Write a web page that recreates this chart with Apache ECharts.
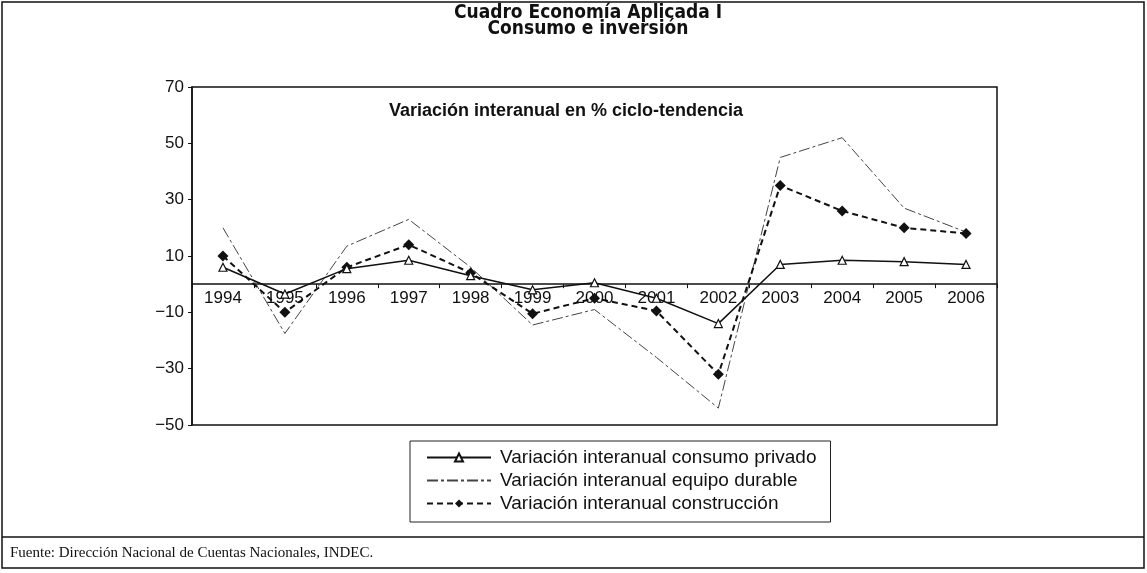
<!DOCTYPE html>
<html>
<head>
<meta charset="utf-8">
<title>Consumo e inversión</title>
<script src="https://cdn.jsdelivr.net/npm/echarts@6/dist/echarts.min.js"></script>
<style>
  html, body {
    margin: 0;
    padding: 0;
    background: #fff;
  }
  #myChart {
    width: 1147px;
    height: 573px;
  }
</style>
</head>
<body>
<div id="myChart"></div>
<script>
  // datos (variacion interanual %, ciclo-tendencia)
  var years = ['1994', '1995', '1996', '1997', '1998', '1999', '2000', '2001', '2002', '2003', '2004', '2005', '2006'];
  var consumoPrivado = [6, -3.5, 5.5, 8.5, 3, -2, 0.5, -5, -14, 7, 8.5, 8, 7];
  var equipoDurable = [20, -17.5, 13.5, 23, 6, -14.5, -9, -26, -44, 45, 52, 27, 18.5];
  var construccion = [10, -10, 6, 14, 4, -10.5, -5, -9.5, -32, 35, 26, 20, 18];
  var yTicks = [-50, -30, -10, 10, 30, 50, 70];

  var seriesNames = [
    'Variación interanual consumo privado',
    'Variación interanual equipo durable',
    'Variación interanual construcción'
  ];

  var titleFont = 'bold 19px "DejaVu Sans Condensed", "Liberation Sans Narrow", sans-serif';

  var myChart = echarts.init(document.getElementById('myChart'));

  myChart.setOption({
    backgroundColor: '#fff',
    animation: false,
    textStyle: {
      fontFamily: 'Liberation Sans, Arial, sans-serif'
    },
    title: {
      text: 'Variación interanual en % ciclo-tendencia',
      left: 561,
      textAlign: 'center',
      top: 97,
      textStyle: {
        fontSize: 18,
        fontWeight: 'bold',
        color: '#111'
      }
    },
    graphic: [
      {
        type: 'rect',
        shape: { x: 2, y: 2, width: 1142, height: 566 },
        style: { fill: 'none', stroke: '#111', lineWidth: 1.5 }
      },
      {
        type: 'line',
        shape: { x1: 2, y1: 537, x2: 1144, y2: 537 },
        style: { stroke: '#111', lineWidth: 1.5 }
      },
      {
        type: 'text',
        x: 588,
        y: 13,
        style: {
          text: 'Cuadro Economía Aplicada I',
          font: titleFont,
          fill: '#111',
          align: 'center',
          verticalAlign: 'middle'
        }
      },
      {
        type: 'text',
        x: 588,
        y: 29,
        style: {
          text: 'Consumo e inversión',
          font: titleFont,
          fill: '#111',
          align: 'center',
          verticalAlign: 'middle'
        }
      },
      {
        type: 'text',
        x: 10,
        y: 553,
        style: {
          text: 'Fuente: Dirección Nacional de Cuentas Nacionales, INDEC.',
          font: '15px "Liberation Serif", "Times New Roman", serif',
          fill: '#111',
          verticalAlign: 'middle'
        }
      }
    ],
    legend: {
      orient: 'vertical',
      left: 410,
      top: 441,
      padding: [7, 14, 9, 16],
      itemGap: 4,
      itemWidth: 64,
      itemHeight: 10,
      borderColor: '#222',
      borderWidth: 1,
      backgroundColor: '#fff',
      data: [
        { name: seriesNames[0] },
        { name: seriesNames[1], itemStyle: { opacity: 0 } },
        { name: seriesNames[2] }
      ],
      textStyle: {
        fontSize: 19,
        color: '#111',
        padding: [0, 0, 0, 4]
      }
    },
    grid: {
      show: true,
      left: 192,
      right: 150,
      top: 87,
      bottom: 148,
      borderColor: '#111',
      borderWidth: 1.5,
      backgroundColor: 'transparent'
    },
    xAxis: {
      type: 'category',
      data: years,
      boundaryGap: true,
      axisLine: {
        onZero: false,
        lineStyle: { color: '#111', width: 1.5 }
      },
      axisTick: {
        show: true,
        length: 4,
        lineStyle: { color: '#111' }
      },
      axisLabel: {
        fontSize: 17,
        color: '#111',
        margin: 6
      },
      splitLine: { show: false }
    },
    yAxis: {
      type: 'value',
      min: yTicks[0],
      max: yTicks[yTicks.length - 1],
      interval: 20,
      axisLine: {
        show: true,
        lineStyle: { color: '#111', width: 1.5 }
      },
      axisTick: {
        show: true,
        length: 4,
        lineStyle: { color: '#111' }
      },
      axisLabel: {
        fontSize: 17,
        color: '#111',
        margin: 8,
        formatter: function (value) {
          return String(value).replace('-', '\u2212');
        }
      },
      splitLine: { show: false }
    },
    series: [
      {
        name: seriesNames[0],
        type: 'line',
        data: consumoPrivado,
        symbol: 'triangle',
        symbolSize: 8,
        lineStyle: { color: '#111', width: 1.5, type: 'solid' },
        itemStyle: { color: '#fff', borderColor: '#111', borderWidth: 1.2 },
        z: 4
      },
      {
        name: seriesNames[1],
        type: 'line',
        data: equipoDurable,
        symbol: 'none',
        lineStyle: { color: '#444', width: 1, type: [11, 3, 3, 3] },
        itemStyle: { color: '#444' },
        z: 2
      },
      {
        name: seriesNames[2],
        type: 'line',
        data: construccion,
        symbol: 'diamond',
        symbolSize: 11,
        lineStyle: { color: '#111', width: 2, type: [6, 4] },
        itemStyle: { color: '#111' },
        z: 3
      }
    ]
  });

  // el eje de categorias (y sus etiquetas) va sobre la linea del cero
  var zeroY = myChart.convertToPixel({ yAxisIndex: 0 }, 0);
  var bottomY = myChart.convertToPixel({ yAxisIndex: 0 }, yTicks[0]);
  myChart.setOption({
    xAxis: { offset: zeroY - bottomY }
  });
</script>
</body>
</html>
